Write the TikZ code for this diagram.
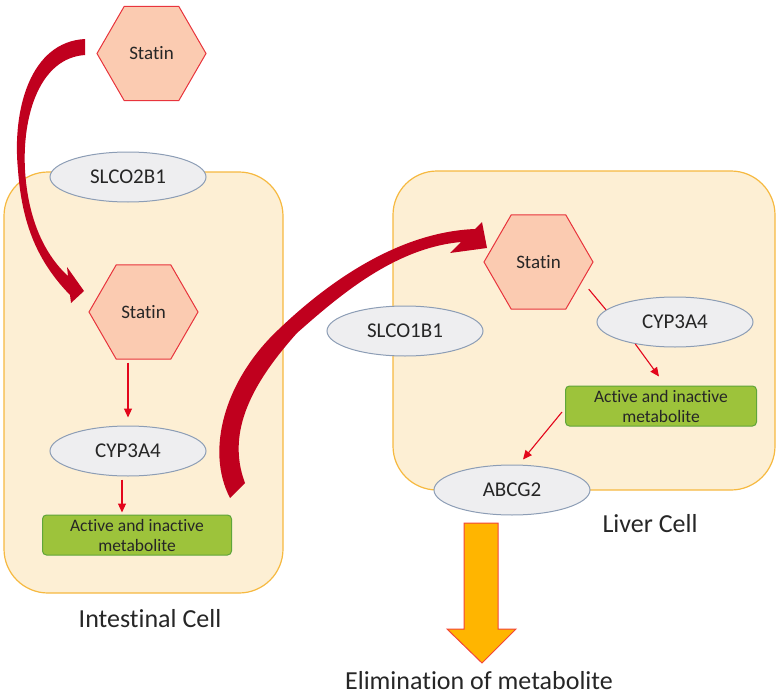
\documentclass[tikz,border=0pt]{standalone}
\usepackage{fontspec}
\setmainfont{Carlito}[Ligatures=NoCommon]
\usetikzlibrary{shapes.geometric,arrows.meta,calc}
\definecolor{cellfill}{HTML}{FDEFD4}
\definecolor{cellline}{HTML}{F6B940}
\definecolor{hexfill}{HTML}{FBCBB1}
\definecolor{hexline}{HTML}{E8343C}
\definecolor{ellfill}{HTML}{EEEEF0}
\definecolor{ellline}{HTML}{8C9DB5}
\definecolor{metfill}{HTML}{9DC33B}
\definecolor{metline}{HTML}{5FA53A}
\definecolor{bigred}{HTML}{C0001E}
\definecolor{thinred}{HTML}{E3061B}
\definecolor{orangefill}{HTML}{FFB500}
\definecolor{orangeline}{HTML}{F2453A}
\begin{document}
\begin{tikzpicture}[x=1pt,y=-1pt,
  every node/.style={text=black!85},
  cell/.style={draw=cellline,fill=cellfill,line width=1.2pt,rounded corners=44pt},
  hexa/.style={regular polygon,regular polygon sides=6,draw=hexline,fill=hexfill,line width=1pt,minimum size=109pt,inner sep=0pt,font=\fontsize{19}{21}\selectfont},
  enz/.style={ellipse,draw=ellline,fill=ellfill,line width=1pt,minimum width=156pt,minimum height=50pt,inner sep=0pt,font=\fontsize{21}{24}\selectfont},
  metab/.style={rectangle,rounded corners=4pt,draw=metline,fill=metfill,line width=1pt,minimum height=40pt,inner sep=0pt,align=center,font=\fontsize{17.5}{20}\selectfont},
  thinarr/.style={-{Triangle[length=9pt,width=8pt]},draw=thinred,line width=1.1pt},
  bigarr/.style={fill=bigred},
  lbl/.style={anchor=base,font=\fontsize{26}{30}\selectfont}]
\useasboundingbox (0,0) rectangle (780,696);
% cells
\draw[cell] (4,172) rectangle (283,593);
\draw[cell] (393,171) rectangle (775,490);
% intestinal side
\node[hexa] (s1) at (151.5,53.5) {Statin};
\node[enz] (t1) at (128,177) {SLCO2B1};
\node[hexa] (s2) at (143.5,312) {Statin};
\node[enz] (c2) at (128,451) {CYP3A4};
\node[metab,minimum width=189pt] (m2) at (137,535) {Active and inactive\\metabolite};
\draw[thinarr,shorten <=3pt,shorten >=8pt] (s2.south -| c2.north) -- (c2.north);
\draw[thinarr] ($(c2.south)+(-6,3)$) -- ($(c2.south |- m2.north)+(-6,-2)$);
% liver side
\node[enz] (t2) at (405,331) {SLCO1B1};
\node[hexa] (s3) at (538.5,262) {Statin};
\node[enz] (c3) at (675,322) {CYP3A4};
\node[metab,minimum width=191pt] (m3) at (661,406) {Active and inactive\\metabolite};
\node[enz] (b3) at (512,490) {ABCG2};
\draw[thinred,line width=1.1pt,shorten <=10pt] (s3.-24) -- (c3.170);
\draw[thinarr] (c3.209) -- ($(m3.north)+(-2,-9)$);
\draw[thinarr] ($(m3.west)+(-3,6)$) -- ($(b3.north)+(11,-5)$);
% uptake arrows
\fill[bigarr] (85,39) .. controls (30,42) and (12,110) .. (18,170) .. controls (22,225) and (38,262) .. (70,295)
  -- (71,303) -- (84,291) -- (67,267) -- (68,276) .. controls (45,255) and (28,220) .. (25,170)
  .. controls (22,115) and (40,58) .. (85,55) -- cycle;
\fill[bigarr] (230,498) .. controls (205,450) and (225,380) .. (278,330) .. controls (330,280) and (400,232) .. (475,229)
  -- (482,222) -- (487,248) -- (450,253) -- (461,242) .. controls (395,248) and (340,295) .. (297,333)
  .. controls (255,380) and (225,430) .. (245,483) -- cycle;
% elimination
\draw[fill=orangefill,draw=orangeline,line width=1pt] (464,523) -- (498,523) -- (498,629) -- (516,629)
  -- (482,663) -- (447,629) -- (464,629) -- cycle;
% labels
\node[lbl] (lint) at (150,627) {Intestinal Cell};
\node[lbl] (lliv) at (650,532) {Liver Cell};
\node[lbl] (lelim) at (479,689) {Elimination of metabolite};
\end{tikzpicture}
\end{document}
